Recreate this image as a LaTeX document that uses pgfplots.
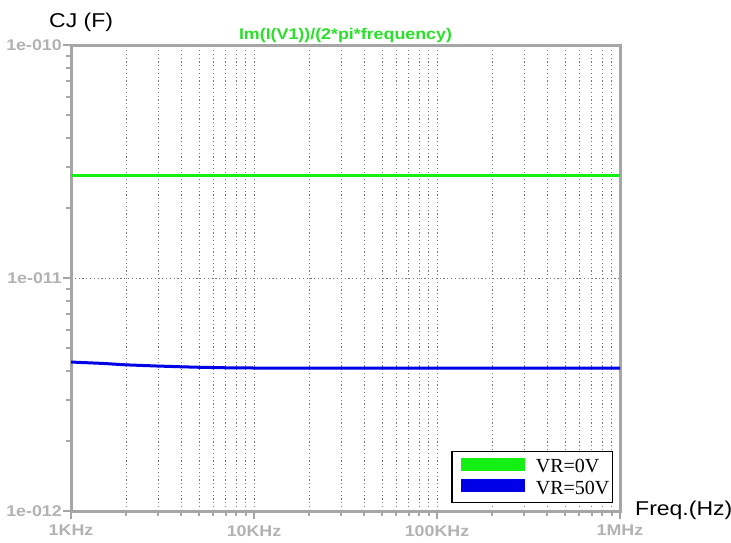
\documentclass[border=0pt]{standalone}
\usepackage{fontspec}
\setmainfont{Liberation Sans}[FakeStretch=1.15]
\newfontfamily\legfont{Liberation Serif}
\usepackage{pgfplots}
\pgfplotsset{compat=1.18}

\definecolor{axgray}{RGB}{166,166,166}
\definecolor{lblgray}{RGB}{178,178,178}
\definecolor{gridgray}{RGB}{120,120,120}
\definecolor{cjgreen}{RGB}{20,240,20}
\definecolor{titlegreen}{RGB}{40,225,40}
\definecolor{cjblue}{RGB}{0,0,230}

\begin{document}
\begin{tikzpicture}
\useasboundingbox (-71bp,-32bp) rectangle (660bp,511bp);
\begin{axis}[
  name=ax,
  at={(0,0)}, anchor=south west,
  scale only axis,
  width=549bp, height=466bp,
  xmode=log, ymode=log,
  xmin=1000, xmax=1000000,
  ymin=1e-12, ymax=1e-10,
  xtick={1000,10000,100000,1000000},
  xticklabels={1KHz,10KHz,100KHz,1MHz},
  ytick={1e-12,1e-11,1e-10},
  yticklabels={1e-012,1e-011,1e-010},
  minor xtick={2000,3000,4000,5000,6000,7000,8000,9000,
    20000,30000,40000,50000,60000,70000,80000,90000,
    200000,300000,400000,500000,600000,700000,800000,900000},
  minor ytick={2e-12,3e-12,4e-12,5e-12,6e-12,7e-12,8e-12,9e-12,
    2e-11,3e-11,4e-11,5e-11,6e-11,7e-11,8e-11,9e-11},
  xtick pos=bottom, ytick pos=left,
  tick align=outside,
  major tick length=8bp, minor tick length=5bp,
  every tick/.style={axgray, line width=2bp},
  axis line style={axgray, line width=3bp},
  xmajorgrids=true, xminorgrids=true, ymajorgrids=true,
  grid style={gridgray, line width=0.7bp, dash pattern=on 1.2bp off 2.6bp},
  /pgf/number format/assume math mode=true,
  ticklabel style={lblgray, font=\fontsize{15.5bp}{18bp}\selectfont\bfseries},
  xticklabel style={inner sep=0pt, anchor=north, yshift=-6bp},
  yticklabel style={inner sep=0pt, anchor=east, xshift=-1bp},
  title={Im(I(V1))/(2*pi*frequency)},
  title style={at={(0.5,1)}, anchor=south, inner sep=0pt, yshift=-4bp,
    text=titlegreen, font=\fontsize{15.5bp}{18bp}\selectfont\bfseries},
  legend style={at={(1,0)}, anchor=south east, xshift=-7bp, yshift=8bp,
    draw=black, line width=1.3bp, inner xsep=3bp, inner ysep=6bp,
    font=\legfont\fontsize{20bp}{22bp}\selectfont,
    row sep=5bp,
    nodes={inner sep=0pt},
    /tikz/every odd column/.append style={column sep=4bp}},
  legend cell align=left,
  legend image code/.code={\draw[#1, line width=13bp] (0bp,3bp) -- (64bp,3bp);},
]
\addplot[cjgreen, line width=3bp] coordinates {
  (1000,2.75e-11) (10000,2.75e-11) (100000,2.75e-11) (1000000,2.75e-11)
};
\addlegendentry{VR=0V}
\addplot[cjblue, line width=3bp] coordinates {
  (1000,4.36e-12) (1500,4.30e-12) (2000,4.24e-12) (3000,4.19e-12)
  (4000,4.16e-12) (5000,4.14e-12) (7000,4.12e-12) (10000,4.11e-12)
  (100000,4.11e-12) (1000000,4.11e-12)
};
\addlegendentry{VR=50V}
\end{axis}
\node[anchor=base west, inner sep=0pt, font=\fontsize{20bp}{24bp}\selectfont]
  at ([xshift=-22bp, yshift=17bp]ax.north west) {CJ (F)};
\node[anchor=base west, inner sep=0pt, font=\fontsize{20bp}{24bp}\selectfont]
  at ([xshift=15bp, yshift=-4bp]ax.south east) {Freq.(Hz)};
\end{tikzpicture}
\end{document}
